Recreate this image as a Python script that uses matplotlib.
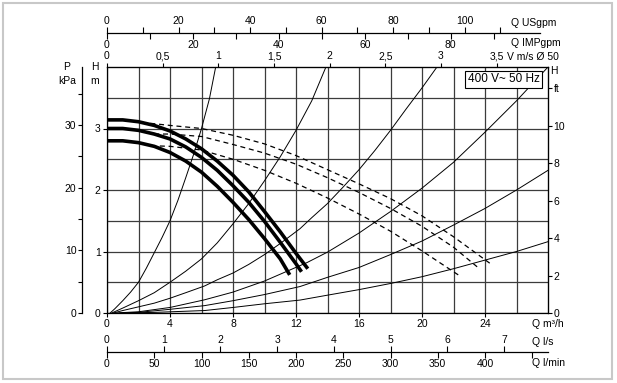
import matplotlib
matplotlib.use("Agg")
import matplotlib.pyplot as plt
from matplotlib.patches import Rectangle

plt.rcParams['font.family'] = ['Liberation Sans', 'DejaVu Sans']
plt.rcParams['font.size'] = 7.5

# unit factors (m3/h per unit, kPa per m, m per ft)
USGPM = 0.22712
IMPGPM = 0.27277
LPS = 3.6
LPM = 0.06
VEL50 = 7.0686
KPA = 9.80665
FT = 0.3048

# pump curves, Q m3/h -> H m
q_p1 = [0, 1, 2, 3, 4, 5, 6, 7, 8, 9, 10, 11, 12, 12.75]
h_p1 = [3.14, 3.14, 3.11, 3.05, 2.96, 2.83, 2.67, 2.47, 2.24, 1.97, 1.65, 1.32, 0.97, 0.72]
q_p2 = [0, 1, 2, 3, 4, 5, 6, 7, 8, 9, 10, 11, 12, 12.35]
h_p2 = [3.00, 3.00, 2.97, 2.91, 2.83, 2.70, 2.53, 2.32, 2.07, 1.80, 1.49, 1.15, 0.80, 0.67]
q_p3 = [0, 1, 2, 3, 4, 5, 6, 7, 8, 9, 10, 11, 11.6]
h_p3 = [2.80, 2.80, 2.77, 2.71, 2.61, 2.47, 2.29, 2.06, 1.80, 1.52, 1.21, 0.88, 0.62]

# dashed curves
q_d1 = [2.2, 4, 6, 8, 10, 12, 14, 16, 18, 20, 22, 24.3]
h_d1 = [3.10, 3.05, 3.00, 2.89, 2.75, 2.56, 2.33, 2.10, 1.86, 1.58, 1.24, 0.81]
q_d2 = [3.0, 4, 6, 8, 10, 12, 14, 16, 18, 20, 22, 23.6]
h_d2 = [2.91, 2.91, 2.87, 2.74, 2.60, 2.42, 2.20, 1.96, 1.70, 1.41, 1.07, 0.73]
q_d3 = [2.8, 4, 6, 8, 10, 12, 14, 16, 18, 20, 22.3]
h_d3 = [2.72, 2.71, 2.65, 2.50, 2.32, 2.11, 1.87, 1.61, 1.33, 1.01, 0.62]

# thin system curves
q_s1 = [0.2, 0.5, 1, 1.5, 2, 2.5, 3, 3.5, 4, 4.5, 5, 5.5, 6, 6.5, 6.9]
h_s1 = [0, 0.07, 0.2, 0.34, 0.5, 0.73, 0.98, 1.23, 1.5, 1.83, 2.2, 2.58, 3.0, 3.48, 4.0]
q_s2 = [0.3, 1, 2, 3, 4, 5, 6, 7, 8, 9, 10, 11, 12, 13, 13.9]
h_s2 = [0, 0.08, 0.2, 0.33, 0.5, 0.68, 0.88, 1.14, 1.45, 1.78, 2.15, 2.54, 2.97, 3.45, 4.0]
q_s3 = [0.4, 1, 2, 3, 4, 5, 6.2, 7, 8, 9, 10, 11, 12.25, 13, 14, 15, 16, 17, 18, 19, 20, 20.95]
h_s3 = [0, 0.04, 0.1, 0.16, 0.24, 0.33, 0.44, 0.54, 0.65, 0.79, 0.95, 1.13, 1.37, 1.55, 1.78,
        2.05, 2.33, 2.64, 2.97, 3.32, 3.66, 4.0]
q_s4 = [0.5, 2, 4, 6.2, 8, 10, 12.7, 14, 16, 18, 20, 22, 24, 26, 28]
h_s4 = [0, 0.02, 0.09, 0.215, 0.34, 0.52, 0.82, 0.99, 1.3, 1.65, 2.03, 2.45, 2.94, 3.45, 4.0]
q_s5 = [0.8, 2, 4, 6.2, 8, 10, 12.25, 14, 16, 18, 20, 22, 24, 26, 28]
h_s5 = [0, 0.01, 0.06, 0.12, 0.2, 0.3, 0.43, 0.58, 0.74, 0.95, 1.17, 1.43, 1.7, 2.0, 2.32]
q_s6 = [1.0, 3, 6.2, 8, 10, 12.25, 14, 16, 18, 20, 22, 24, 26, 28]
h_s6 = [0, 0.01, 0.04, 0.09, 0.15, 0.21, 0.29, 0.38, 0.48, 0.59, 0.72, 0.86, 1.0, 1.16]

v_ticks = [0, 0.5, 1, 1.5, 2, 2.5, 3, 3.5]
v_labels = ['0', '0,5', '1', '1,5', '2', '2,5', '3', '3,5']
ft_ticks = [0, 2, 4, 6, 8, 10, 12]
ft_labels = ['0', '2', '4', '6', '8', '10', 'ft']

W, HP = 617, 383
X0, X1, Y0, Y1 = 107, 548, 67, 313


def fx(px):
    return px / W


def fy(py):
    return 1 - py / HP


fig = plt.figure(figsize=(6.17, 3.83), dpi=100)
fig.add_artist(Rectangle((fx(3), fy(379)), fx(609), 376 / HP, transform=fig.transFigure,
                         fill=False, edgecolor='#c8c8c8', lw=1.5))

ax = fig.add_axes([fx(X0), fy(Y1), fx(X1 - X0), (Y1 - Y0) / HP])
ax.set_xlim(0, 28)
ax.set_ylim(0, 4)
ax.set_xticks([0, 4, 8, 12, 16, 20, 24])
ax.set_xticks([2, 6, 10, 14, 18, 22, 26], minor=True)
ax.set_yticks([0, 1, 2, 3])
ax.set_yticks([0.5, 1.5, 2.5, 3.5], minor=True)
ax.grid(which='both', color='#3c3c3c', lw=0.9)
ax.set_axisbelow(True)
ax.tick_params(which='major', length=3, width=0.8, pad=1.5, colors='black')
ax.tick_params(which='minor', length=0)
for s in ax.spines.values():
    s.set_linewidth(0.9)

for q, h in [(q_s1, h_s1), (q_s2, h_s2), (q_s3, h_s3), (q_s4, h_s4), (q_s5, h_s5), (q_s6, h_s6)]:
    ax.plot(q, h, color='black', lw=0.7)
for q, h in [(q_d1, h_d1), (q_d2, h_d2), (q_d3, h_d3)]:
    ax.plot(q, h, color='black', lw=0.9, dashes=(4, 3))
for q, h in [(q_p1, h_p1), (q_p2, h_p2), (q_p3, h_p3)]:
    ax.plot(q, h, color='black', lw=2.6, solid_capstyle='butt')

# velocity scale on top spine
vax = ax.secondary_xaxis('top', functions=(lambda q: q / VEL50, lambda v: v * VEL50))
vax.set_xticks(v_ticks)
vax.set_xticklabels(v_labels)
vax.tick_params(length=3, width=0.8, pad=1)

# ft scale on the right
fax = ax.secondary_yaxis('right', functions=(lambda h: h / FT, lambda f: f * FT))
fax.set_yticks(ft_ticks)
fax.set_yticklabels(ft_labels)
fax.tick_params(length=3, width=0.8, pad=1)

# kPa scale
pax = fig.add_axes([fx(82), fy(Y1), 1e-4, (Y1 - Y0) / HP])
pax.set_ylim(0, 4 * KPA)
pax.patch.set_visible(False)
for k in ['top', 'right', 'bottom']:
    pax.spines[k].set_visible(False)
pax.spines['left'].set_linewidth(0.9)
pax.set_xticks([])
pax.set_yticks([0, 10, 20, 30])
pax.set_yticks([5, 15, 25, 35], minor=True)
pax.tick_params(which='both', length=3, width=0.8, pad=1)


def hline_axis(ypx, xmax):
    a = fig.add_axes([fx(X0), fy(ypx), fx(X1 - X0), 1e-4])
    a.set_xlim(0, xmax)
    a.patch.set_visible(False)
    a.set_yticks([])
    for s in a.spines.values():
        s.set_visible(False)
    return a


# US / IMP gpm
gax = hline_axis(33.3, 28 / USGPM)
gax.spines['top'].set_visible(True)
gax.spines['top'].set_linewidth(0.9)
gax.spines['top'].set_bounds(0, (540 - X0) / 15.75 / USGPM)
gax.xaxis.set_ticks_position('top')
gax.set_xticks([0, 20, 40, 60, 80, 100])
gax.set_xticks([10, 30, 50, 70, 90, 110], minor=True)
gax.tick_params(which='both', length=4, width=0.8, pad=1)

iax = hline_axis(33.3, 28 / IMPGPM)
iax.set_xticks([0, 20, 40, 60, 80])
iax.set_xticks([10, 30, 50, 70, 90], minor=True)
iax.tick_params(which='both', length=4, width=0.8, pad=1)

# l/s and l/min
sax = hline_axis(352, 28 / LPS)
sax.spines['top'].set_visible(True)
sax.spines['top'].set_linewidth(0.9)
sax.xaxis.set_ticks_position('top')
sax.set_xticks([0, 1, 2, 3, 4, 5, 6, 7])
sax.tick_params(length=4, width=0.8, pad=1)

max_ = hline_axis(352, 28 / LPM)
max_.set_xticks([0, 50, 100, 150, 200, 250, 300, 350, 400])
max_.set_xticks([450], minor=True)
max_.tick_params(which='both', length=4, width=0.8, pad=1)

# unit labels
fig.text(fx(67), fy(67), 'P', ha='center', va='center')
fig.text(fx(67), fy(81), 'kPa', ha='center', va='center')
fig.text(fx(95), fy(67), 'H', ha='center', va='center')
fig.text(fx(95), fy(81), 'm', ha='center', va='center')
fig.text(fx(550), fy(71), 'H', ha='left', va='center')
fig.text(fx(511), fy(22.7), 'Q USgpm', ha='left', va='center')
fig.text(fx(511), fy(42.7), 'Q IMPgpm', ha='left', va='center')
fig.text(fx(507), fy(56.7), 'V m/s Ø 50', ha='left', va='center')
fig.text(fx(532), fy(324), 'Q m³/h', ha='left', va='center')
fig.text(fx(532), fy(342), 'Q l/s', ha='left', va='center')
fig.text(fx(532), fy(363), 'Q l/min', ha='left', va='center')
fig.text(fx(503.5), fy(79.5), '400 V~ 50 Hz', ha='center', va='center', fontsize=8.5,
         bbox=dict(boxstyle='square,pad=0.25', fc='white', ec='black', lw=0.8))

fig.savefig('out.png', dpi=100)
